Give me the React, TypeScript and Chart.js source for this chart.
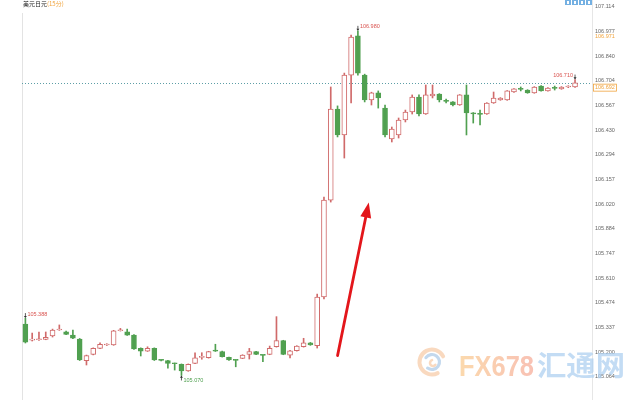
import React, { useEffect, useRef } from "react";
import { Chart, registerables } from "chart.js";

Chart.register(...registerables);

// USD/JPY, 15-minute bars
const OPEN = [
  105.355, 105.266, 105.268, 105.270, 105.289, 105.322, 105.312, 105.294, 105.272, 105.152,
  105.187, 105.220, 105.239, 105.239, 105.318, 105.312, 105.294, 105.221, 105.205, 105.221,
  105.156, 105.152, 105.137, 105.132, 105.095, 105.137, 105.170, 105.168, 105.211, 105.202,
  105.170, 105.156, 105.165, 105.187, 105.202, 105.183, 105.187, 105.229, 105.263, 105.183,
  105.207, 105.229, 105.251, 105.235, 105.505, 106.042, 106.547, 106.403, 106.735, 106.952,
  106.735, 106.597, 106.636, 106.552, 106.381, 106.403, 106.486, 106.530, 106.613, 106.519,
  106.619, 106.630, 106.591, 106.586, 106.569, 106.625, 106.525, 106.519, 106.519, 106.580,
  106.597, 106.597, 106.641, 106.658, 106.652, 106.636, 106.674, 106.647, 106.663, 106.658,
  106.669, 106.669,
];
const CLOSE = [
  105.255, 105.268, 105.270, 105.281, 105.322, 105.324, 105.298, 105.276, 105.156, 105.180,
  105.220, 105.243, 105.243, 105.318, 105.320, 105.294, 105.217, 105.205, 105.221, 105.156,
  105.154, 105.137, 105.135, 105.095, 105.132, 105.168, 105.172, 105.202, 105.205, 105.174,
  105.156, 105.154, 105.183, 105.202, 105.187, 105.181, 105.220, 105.263, 105.187, 105.207,
  105.233, 105.251, 105.239, 105.505, 106.042, 106.547, 106.403, 106.735, 106.946, 106.746,
  106.597, 106.636, 106.608, 106.403, 106.436, 106.486, 106.530, 106.613, 106.519, 106.625,
  106.630, 106.597, 106.589, 106.569, 106.625, 106.525, 106.519, 106.517, 106.580, 106.608,
  106.608, 106.647, 106.658, 106.656, 106.636, 106.669, 106.647, 106.663, 106.661, 106.669,
  106.671, 106.692,
];
const HIGH = [
  105.388, 105.305, 105.311, 105.311, 105.327, 105.350, 105.316, 105.322, 105.275, 105.183,
  105.223, 105.251, 105.246, 105.320, 105.331, 105.327, 105.296, 105.223, 105.229, 105.223,
  105.158, 105.154, 105.139, 105.134, 105.134, 105.196, 105.196, 105.204, 105.243, 105.205,
  105.172, 105.158, 105.185, 105.220, 105.204, 105.185, 105.233, 105.396, 105.265, 105.209,
  105.235, 105.276, 105.253, 105.521, 106.059, 106.669, 106.564, 106.746, 106.957, 106.980,
  106.740, 106.640, 106.647, 106.569, 106.447, 106.497, 106.541, 106.625, 106.625, 106.680,
  106.680, 106.632, 106.602, 106.588, 106.627, 106.680, 106.527, 106.541, 106.582, 106.641,
  106.610, 106.649, 106.660, 106.669, 106.654, 106.671, 106.676, 106.665, 106.674, 106.671,
  106.676, 106.710,
];
const LOW = [
  105.250, 105.261, 105.264, 105.268, 105.283, 105.320, 105.296, 105.274, 105.153, 105.128,
  105.184, 105.218, 105.236, 105.237, 105.316, 105.292, 105.215, 105.178, 105.203, 105.153,
  105.151, 105.111, 105.100, 105.070, 105.093, 105.135, 105.160, 105.166, 105.203, 105.172,
  105.154, 105.118, 105.163, 105.161, 105.185, 105.146, 105.185, 105.227, 105.185, 105.167,
  105.205, 105.227, 105.237, 105.222, 105.494, 106.031, 106.392, 106.275, 106.580, 106.735,
  106.586, 106.569, 106.552, 106.392, 106.364, 106.386, 106.475, 106.519, 106.508, 106.517,
  106.608, 106.586, 106.580, 106.564, 106.567, 106.403, 106.469, 106.458, 106.517, 106.578,
  106.595, 106.595, 106.639, 106.647, 106.634, 106.634, 106.645, 106.645, 106.652, 106.656,
  106.665, 106.667,
];

// two empty slots are kept to the right of the latest bar
const SLOT_COUNT = 84;

const Y_TICKS = [
  107.114, 106.977, 106.840, 106.704, 106.567, 106.430, 106.294, 106.157,
  106.020, 105.884, 105.747, 105.610, 105.474, 105.337, 105.200, 105.064,
];
const Y_MIN = 104.934;
const Y_MAX = 107.151;

const LAST_PRICE = 106.692;
const REF_PRICE = 106.971;

// highs / lows flagged on the chart: bar index, price, side
const EXTREMES = [
  { i: 0, v: 105.388, side: "high", color: "#d9534f", align: "left" },
  { i: 49, v: 106.980, side: "high", color: "#d9534f", align: "left" },
  { i: 23, v: 105.070, side: "low", color: "#4e9f4e", align: "left" },
  { i: 81, v: 106.710, side: "high", color: "#d9534f", align: "right" },
];

// hand-drawn arrow, in bar index / price units
const ARROW_FROM = { i: 46, v: 105.18 };
const ARROW_TO = { i: 50.6, v: 106.028 };

const TITLE = "美元日元";
const PERIOD = "(15分)";

const FONT = '"Liberation Sans", Arial, sans-serif';
const UP = "#d06a6a";
const DOWN = "#50a050";
const ORANGE = "#f0a33c";

const isUp = (i: number) => CLOSE[i] >= OPEN[i];

const overlay = {
  id: "overlay",
  beforeDatasetsDraw(chart: any) {
    const { ctx, chartArea: a, scales } = chart;
    const y = scales.y;
    ctx.save();
    ctx.strokeStyle = "#e3e3e3";
    ctx.lineWidth = 1;
    ctx.beginPath();
    ctx.moveTo(Math.round(a.left) + 0.5, 13);
    ctx.lineTo(Math.round(a.left) + 0.5, a.bottom);
    ctx.stroke();

    const py = Math.round(y.getPixelForValue(LAST_PRICE)) + 0.5;
    ctx.setLineDash([1, 2]);
    ctx.strokeStyle = "#5d9ea6";
    ctx.beginPath();
    ctx.moveTo(a.left, py);
    ctx.lineTo(a.right, py);
    ctx.stroke();
    ctx.restore();
  },
  afterDraw(chart: any) {
    const { ctx, chartArea: a, scales } = chart;
    const x = scales.x;
    const y = scales.y;
    ctx.save();

    // title
    ctx.textBaseline = "middle";
    ctx.textAlign = "left";
    ctx.font = '6px "Noto Sans CJK SC", sans-serif';
    ctx.fillStyle = "#222";
    ctx.fillText(TITLE, a.left + 1, 4);
    const tw = ctx.measureText(TITLE).width;
    ctx.fillStyle = ORANGE;
    ctx.fillText(PERIOD, a.left + 1 + tw, 4);

    // toolbar buttons, top right
    for (let k = 0; k < 4; k++) {
      const bx = 565 + k * 7;
      ctx.fillStyle = "#74b0e2";
      ctx.fillRect(bx, 0, 6, 5);
      ctx.fillStyle = "#ffffff";
      ctx.fillRect(bx + 2, 1, 2, 3);
    }

    // price labels on the axis
    ctx.font = `5.5px ${FONT}`;
    const lx = a.right + 3;
    const refY = Math.max(y.getPixelForValue(REF_PRICE), y.getPixelForValue(106.977) + 5);
    ctx.fillStyle = ORANGE;
    ctx.fillText(REF_PRICE.toFixed(3), lx, refY);
    const lastY = Math.max(y.getPixelForValue(LAST_PRICE), y.getPixelForValue(106.704) + 7);
    const lastTxt = LAST_PRICE.toFixed(3);
    const lw = ctx.measureText(lastTxt).width;
    ctx.fillStyle = "#fff";
    ctx.fillRect(lx - 1, lastY - 3.5, lw + 2, 7);
    ctx.strokeStyle = ORANGE;
    ctx.lineWidth = 0.8;
    ctx.strokeRect(lx - 1.5, lastY - 3.5, lw + 3, 7);
    ctx.fillStyle = ORANGE;
    ctx.fillText(lastTxt, lx, lastY);

    // extreme markers
    for (const m of EXTREMES) {
      const cx = x.getPixelForValue(m.i);
      const cy = y.getPixelForValue(m.v);
      const dir = m.side === "high" ? -1 : 1;
      ctx.strokeStyle = "#333";
      ctx.fillStyle = "#333";
      ctx.lineWidth = 0.8;
      ctx.beginPath();
      ctx.moveTo(cx, cy + dir * 1);
      ctx.lineTo(cx, cy + dir * 5);
      ctx.stroke();
      ctx.beginPath();
      ctx.moveTo(cx, cy);
      ctx.lineTo(cx - 1.5, cy + dir * 2.2);
      ctx.lineTo(cx + 1.5, cy + dir * 2.2);
      ctx.closePath();
      ctx.fill();
      ctx.font = `5.5px ${FONT}`;
      ctx.fillStyle = m.color;
      ctx.textAlign = m.align as CanvasTextAlign;
      const tx = m.align === "left" ? cx + 2 : cx - 2;
      const ty = m.side === "high" ? cy - 4 : cy + 5;
      ctx.fillText(m.v.toFixed(3), tx, ty);
    }

    // red arrow
    const x0 = x.getPixelForValue(ARROW_FROM.i);
    const y0 = y.getPixelForValue(ARROW_FROM.v);
    const x1 = x.getPixelForValue(ARROW_TO.i);
    const y1 = y.getPixelForValue(ARROW_TO.v);
    const ang = Math.atan2(y1 - y0, x1 - x0);
    const headLen = 15;
    const headW = 5.5;
    const bxp = x1 - headLen * Math.cos(ang);
    const byp = y1 - headLen * Math.sin(ang);
    ctx.strokeStyle = "#e3161b";
    ctx.fillStyle = "#e3161b";
    ctx.lineWidth = 2.8;
    ctx.lineCap = "round";
    ctx.beginPath();
    ctx.moveTo(x0, y0);
    ctx.lineTo(bxp, byp);
    ctx.stroke();
    ctx.beginPath();
    ctx.moveTo(x1, y1);
    ctx.lineTo(bxp + headW * Math.sin(ang), byp - headW * Math.cos(ang));
    ctx.lineTo(bxp - headW * Math.sin(ang), byp + headW * Math.cos(ang));
    ctx.closePath();
    ctx.fill();

    // brand mark, bottom right
    ctx.globalAlpha = 0.7;
    const lcx = 432;
    const lcy = 362;
    ctx.lineCap = "round";
    ctx.strokeStyle = "#f6c9a4";
    ctx.lineWidth = 4;
    ctx.beginPath();
    ctx.arc(lcx, lcy, 12.5, Math.PI * 0.35, Math.PI * 1.85);
    ctx.stroke();
    ctx.strokeStyle = "#aac8e6";
    ctx.lineWidth = 3.2;
    ctx.beginPath();
    ctx.arc(lcx, lcy, 7.5, Math.PI * 1.2, Math.PI * 2.7);
    ctx.stroke();
    ctx.strokeStyle = "#f6c9a4";
    ctx.lineWidth = 2.5;
    ctx.beginPath();
    ctx.arc(lcx + 1, lcy + 1, 3, Math.PI * 0.2, Math.PI * 1.4);
    ctx.stroke();

    ctx.textAlign = "left";
    ctx.textBaseline = "alphabetic";
    ctx.font = `bold 30px ${FONT}`;
    const brand = "FX678";
    const bw = ctx.measureText(brand).width;
    ctx.save();
    ctx.translate(459, 376);
    ctx.scale(75 / bw, 1);
    const grad = ctx.createLinearGradient(0, 0, bw, 0);
    grad.addColorStop(0, "#f9c889");
    grad.addColorStop(1, "#f5a693");
    ctx.fillStyle = grad;
    ctx.fillText(brand, 0, 0);
    ctx.restore();

    ctx.font = 'bold 28px "Noto Sans CJK SC", sans-serif';
    const cn = "汇通网";
    const cw = ctx.measureText(cn).width;
    ctx.save();
    ctx.translate(537, 376);
    ctx.scale(88 / cw, 1);
    ctx.fillStyle = "#a9cdef";
    ctx.fillText(cn, 0, 0);
    ctx.restore();

    ctx.restore();
  },
};

export default function App() {
  const canvasRef = useRef<HTMLCanvasElement | null>(null);

  useEffect(() => {
    const canvas = canvasRef.current;
    if (!canvas) return;
    const labels = Array.from({ length: SLOT_COUNT }, (_, i) => String(i));
    const wickColors = OPEN.map((_, i) => (isUp(i) ? UP : DOWN));
    const bodyFill = OPEN.map((_, i) => (isUp(i) ? "#ffffff" : DOWN));
    const bodyBorder = OPEN.map((_, i) => (isUp(i) ? UP : DOWN));

    const chart = new Chart(canvas, {
      type: "bar",
      data: {
        labels,
        datasets: [
          {
            label: "body",
            data: OPEN.map((o, i) => [o, CLOSE[i]]),
            backgroundColor: bodyFill,
            borderColor: bodyBorder,
            borderWidth: 1,
            borderSkipped: false,
            barThickness: 5,
            minBarLength: 1,
            grouped: false,
            order: 1,
          } as any,
          {
            label: "wick",
            data: LOW.map((l, i) => [l, HIGH[i]]),
            backgroundColor: wickColors,
            borderWidth: 0,
            barThickness: 1,
            grouped: false,
            order: 2,
          } as any,
        ],
      },
      options: {
        responsive: false,
        maintainAspectRatio: false,
        devicePixelRatio: 1,
        animation: false,
        layout: { padding: { left: 22, right: 0, top: 0, bottom: 0 } },
        plugins: {
          legend: { display: false },
          tooltip: { enabled: false },
          title: { display: false },
        },
        scales: {
          x: {
            type: "category",
            display: false,
            offset: true,
            grid: { display: false },
          },
          y: {
            type: "linear",
            position: "right",
            min: Y_MIN,
            max: Y_MAX,
            grid: { display: false, drawTicks: false },
            border: { display: true, color: "#e6e6e6" },
            afterBuildTicks: (scale: any) => {
              scale.ticks = Y_TICKS.map((v) => ({ value: v }));
            },
            afterFit: (scale: any) => {
              scale.width = 48;
              scale.paddingTop = 0;
              scale.paddingBottom = 0;
            },
            ticks: {
              padding: 3,
              autoSkip: false,
              color: "#666",
              font: { family: FONT, size: 5.5 },
              callback: (v: any) => Number(v).toFixed(3),
            },
          },
        },
      },
      plugins: [overlay],
    });
    return () => chart.destroy();
  }, []);

  return (
    <div
      style={{
        position: "fixed",
        left: 0,
        top: 0,
        width: 640,
        height: 400,
        background: "#ffffff",
      }}
    >
      <canvas ref={canvasRef} width={640} height={400} style={{ width: 640, height: 400 }} />
    </div>
  );
}
